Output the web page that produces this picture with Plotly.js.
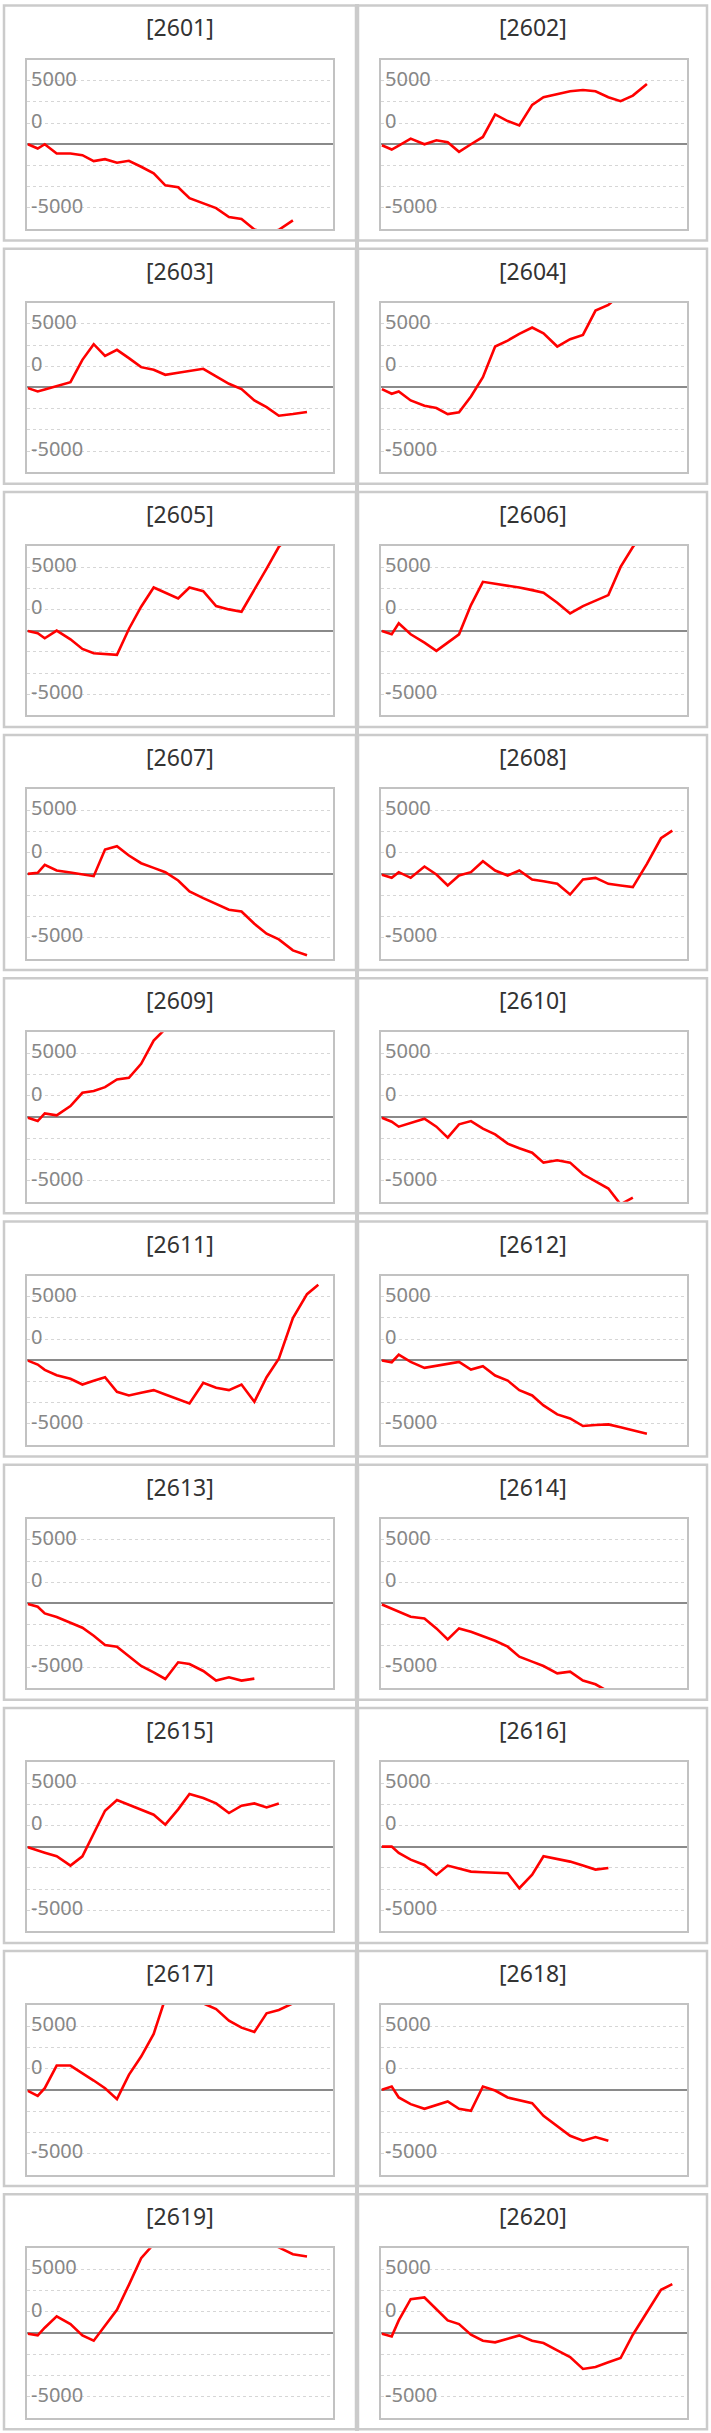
<!DOCTYPE html>
<html>
<head>
<meta charset="utf-8">
<script src="https://cdn.plot.ly/plotly-3.0.1.min.js"></script>
<style>
  html, body { margin: 0; padding: 0; background: #fff; }
  #plotdiv { width: 711px; height: 2433px; }
</style>
</head>
<body>
<div id="plotdiv"></div>
<script>
'use strict'
/* global Plotly */

// panel titles, left to right then top to bottom
const codes = ['2601', '2602', '2603', '2604', '2605', '2606', '2607', '2608', '2609', '2610',
  '2611', '2612', '2613', '2614', '2615', '2616', '2617', '2618', '2619', '2620']

// shared x positions of the points (0..100 across the plot box)
const xPos = [0.3, 3.5, 5.8, 9.7, 14.2, 18.1, 21.8, 25.5, 29.4, 33.3, 37.3, 41.4, 45.2,
  49.4, 53.1, 57.6, 61.8, 66.0, 70.1, 74.3, 78.3, 82.3, 86.9, 91.5, 95.2]

// y grid every 2500, labels sit on three of the lines
const yTickVals = [7500, 5000, 2500, 0, -2500, -5000, -7500]
const yTickText = ['5000', '', '0', '', '', '', '-5000']

// values (points past the box edge are clipped)
const s2601 = [0, -508, 0, -1094, -1094, -1289, -1992, -1758, -2187, -1953, -2656, -3437, -4844,
  -5078, -6367, -6953, -7539, -8594, -8828, -10050, -10500, -10100, -8984]
const s2602 = [-117, -625, -156, 664, 0, 469, 234, -898, 0, 859, 3516, 2734, 2227, 4648, 5547,
  5938, 6250, 6406, 6250, 5547, 5078, 5742, 7109]
const s2603 = [-78, -471, -235, 157, 628, 3258, 5103, 3729, 4435, 3454, 2394, 2080, 1492, 1727,
  1963, 2198, 1295, 432, -196, -1531, -2316, -3336, -3140, -2905]
const s2604 = [-196, -746, -471, -1531, -2159, -2434, -3140, -2944, -1060, 1217, 4828, 5534, 6319,
  7065, 6398, 4828, 5691, 6202, 9067, 9734, 11000]
const s2605 = [-39, -313, -901, 0, -1019, -2155, -2664, -2762, -2860, 196, 2821, 5093, 4467, 3800,
  5093, 4662, 2899, 2508, 2233, 4780, 7327, 9900, 11500]
const s2606 = [-39, -431, 862, -431, -1410, -2390, -1410, -431, 3017, 5759, 5524, 5328, 5093, 4780,
  4467, 3291, 2037, 2899, 3565, 4192, 7523, 9873, 12000]
const s2607 = [0, 118, 1060, 393, 157, -39, -275, 2865, 3258, 2159, 1256, 707, 196, -785, -2080,
  -2865, -3533, -4239, -4435, -5888, -7065, -7732, -9028, -9616]
const s2608 = [-118, -471, 196, -471, 864, -79, -1374, -196, 196, 1492, 393, -196, 393, -668, -864,
  -1178, -2434, -668, -471, -1178, -1374, -1570, 1178, 4200, 5103]
const s2609 = [-78, -471, 432, 196, 1295, 2865, 3062, 3533, 4435, 4632, 6280, 9028, 10400, 12500]
const s2610 = [-78, -550, -1138, -667, -196, -1138, -2434, -864, -471, -1374, -2041, -3140, -3690,
  -4200, -5377, -5103, -5377, -6751, -7615, -8439, -10300, -9498]
const s2611 = [-39, -510, -1137, -1764, -2195, -2862, -2430, -1999, -3724, -4155, -3842, -3528,
  -4038, -4626, -5096, -2666, -3254, -3528, -2862, -4900, -1999, 196, 4978, 7801, 8898]
const s2612 = [-39, -235, 666, -196, -902, -686, -431, -196, -1098, -706, -1803, -2391, -3528,
  -4155, -5331, -6390, -6860, -7762, -7644, -7566, -7918, -8232, -8663]
const s2613 = [-78, -393, -1178, -1609, -2277, -2865, -3807, -4906, -5103, -6280, -7379, -8125,
  -8910, -6947, -7144, -7968, -9106, -8714, -9106, -8871]
const s2614 = [-118, -589, -903, -1570, -1766, -2944, -4239, -2944, -3336, -3847, -4396, -5103,
  -6280, -6869, -7379, -8243, -8046, -9106, -9538, -10400]
const s2615 = [-78, -471, -707, -1138, -2237, -1138, 1491, 4239, 5495, 4926, 4357, 3768, 2591, 4396,
  6202, 5731, 5103, 3964, 4828, 5103, 4632, 5103]
const s2616 = [0, 0, -746, -1531, -2159, -3336, -2237, -2590, -2944, -3022, -3081, -3140, -4906,
  -3297, -1138, -1452, -1766, -2237, -2708, -2512]
const s2617 = [-118, -707, 196, 2865, 2865, 2002, 1099, 196, -1099, 1766, 3925, 6594, 10800, 12000,
  11500, 10200, 9538, 8164, 7340, 6830, 9028, 9420, 10200, 11000]
const s2618 = [0, 393, -903, -1688, -2237, -1806, -1374, -2237, -2473, 393, -79, -903, -1178,
  -1570, -3062, -4318, -5417, -6005, -5574, -6005]
const s2619 = [-78, -275, 628, 1963, 1060, -275, -903, 942, 2748, 5691, 8831, 10500, 12000, 13000,
  13500, 13000, 12500, 12500, 12000, 11500, 11000, 10100, 9302, 9028]
const s2620 = [-78, -393, 1492, 4004, 4200, 2846, 1492, 1060, -196, -903, -1099, -667, -275, -903,
  -1178, -2041, -2826, -4239, -4004, -3454, -2944, -196, 2473, 5103, 5770]

const series = [s2601, s2602, s2603, s2604, s2605, s2606, s2607, s2608, s2609, s2610,
  s2611, s2612, s2613, s2614, s2615, s2616, s2617, s2618, s2619, s2620]

const W = 711
const H = 2433
const ROW_PITCH = 243.2
const PLOT_LEFT = [27, 381]  // px, per column
const PLOT_WIDTH = 306
const PANEL_X = [[4, 356], [358, 707]]

function px (x) { return x / W }
function py (y) { return 1 - y / H }  // paper y is measured from the bottom

const data = []
const layout = {
  width: W,
  height: H,
  margin: {l: 0, r: 0, t: 0, b: 0},
  paper_bgcolor: '#fff',
  plot_bgcolor: '#fff',
  showlegend: false,
  hovermode: false,
  font: {family: 'Noto Sans, sans-serif'},
  shapes: [],
  annotations: []
}

for (let i = 0; i < series.length; i++) {
  const row = Math.floor(i / 2)
  const col = i % 2
  const k = i === 0 ? '' : String(i + 1)
  const top = 59.5 + ROW_PITCH * row
  const bottom = 229 + ROW_PITCH * row
  const left = PLOT_LEFT[col]

  const ys = series[i]
  data.push({
    x: xPos.slice(0, ys.length),
    y: ys,
    xaxis: 'x' + k,
    yaxis: 'y' + k,
    mode: 'lines',
    line: {color: '#ff0000', width: 2.6}
  })

  layout['xaxis' + k] = {
    domain: [px(left), px(left + PLOT_WIDTH)],
    anchor: 'y' + k,
    range: [0, 100],
    showgrid: false,
    zeroline: false,
    showticklabels: false,
    ticks: '',
    showline: true,
    mirror: true,
    linecolor: '#c2c2c2',
    linewidth: 2,
    fixedrange: true
  }
  layout['yaxis' + k] = {
    domain: [py(bottom), py(top)],
    anchor: 'x' + k,
    range: [-10000, 10000],
    tickmode: 'array',
    tickvals: yTickVals,
    ticktext: yTickText,
    ticks: '',
    ticklabelposition: 'inside',
    ticklabelstandoff: 5,
    ticklabelshift: -2,
    tickfont: {family: 'Noto Sans, sans-serif', size: 20, color: '#878787'},
    showgrid: true,
    gridcolor: '#d6d6d6',
    gridwidth: 1,
    griddash: 'dot',
    zeroline: true,
    zerolinecolor: '#8a8a8a',
    zerolinewidth: 2,
    showline: true,
    mirror: true,
    linecolor: '#c2c2c2',
    linewidth: 2,
    fixedrange: true
  }

  // panel frame
  layout.shapes.push({
    type: 'rect',
    xref: 'paper',
    yref: 'paper',
    x0: px(PANEL_X[col][0]),
    x1: px(PANEL_X[col][1]),
    y0: py(bottom + 11.5),
    y1: py(top - 54),
    line: {color: '#cbcbcb', width: 2.5},
    layer: 'below'
  })

  layout.annotations.push({
    text: '[' + codes[i] + ']',
    xref: 'paper',
    yref: 'paper',
    x: px((PANEL_X[col][0] + PANEL_X[col][1]) / 2),
    y: py(top - 32),
    xanchor: 'center',
    yanchor: 'middle',
    showarrow: false,
    font: {family: 'Noto Sans, sans-serif', size: 23, color: '#333333'}
  })
}

// divider between the two columns runs the full height
layout.shapes.push({
  type: 'line',
  xref: 'paper',
  yref: 'paper',
  x0: px(357),
  x1: px(357),
  y0: py(4),
  y1: py(H - 2),
  line: {color: '#cbcbcb', width: 4},
  layer: 'below'
})

Plotly.newPlot('plotdiv', data, layout, {displayModeBar: false, staticPlot: true})
</script>
</body>
</html>
